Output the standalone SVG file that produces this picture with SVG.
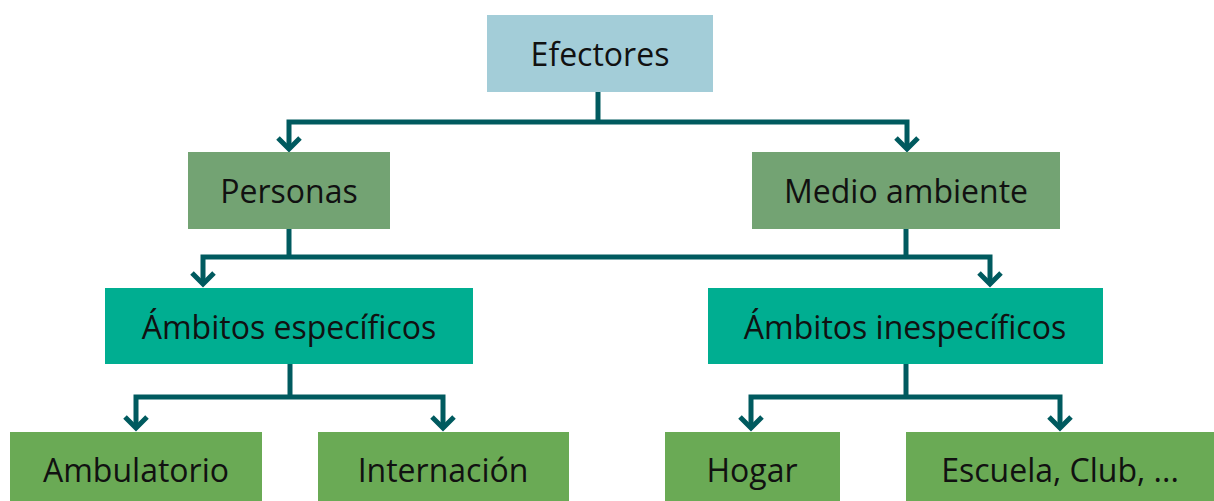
<svg xmlns="http://www.w3.org/2000/svg" width="1214" height="501" viewBox="0 0 1214 501">
<style>
text{font-family:"Open Sans","Noto Sans",sans-serif;font-size:32px;fill:#111;text-anchor:middle;dominant-baseline:central}
.c{fill:none;stroke:#005A5F;stroke-width:5;stroke-linejoin:miter}
.l1{fill:#A3CDD8}.l2{fill:#73A373}.l3{fill:#00AE91}.l4{fill:#6AAA55}
</style>
<rect width="1214" height="501" fill="#fff"/>
<g id="connectors" class="c">
<polyline points="598,92 598,122"/>
<polyline points="289,148 289,122 907,122 907,148"/>
<polyline points="278,138 289,149 300,138"/>
<polyline points="896,138 907,149 918,138"/>
<polyline points="289,229 289,257"/>
<polyline points="906,229 906,257"/>
<polyline points="203,283 203,257 990,257 990,283"/>
<polyline points="192,273 203,284 214,273"/>
<polyline points="979,273 990,284 1001,273"/>
<polyline points="290,364 290,397"/>
<polyline points="136,427 136,397 443,397 443,427"/>
<polyline points="125,417 136,428 147,417"/>
<polyline points="432,417 443,428 454,417"/>
<polyline points="906,364 906,397"/>
<polyline points="751,427 751,397 1060,397 1060,427"/>
<polyline points="740,417 751,428 762,417"/>
<polyline points="1049,417 1060,428 1071,417"/>
</g>
<g id="efectores"><rect class="l1" x="487" y="15" width="226" height="77"/><text x="600" y="53">Efectores</text></g>
<g id="personas"><rect class="l2" x="188" y="152" width="202" height="77"/><text x="289" y="190">Personas</text></g>
<g id="medio"><rect class="l2" x="752" y="152" width="308" height="77"/><text x="906" y="190">Medio ambiente</text></g>
<g id="especificos"><rect class="l3" x="105" y="288" width="368" height="76"/><text x="289" y="326">Ámbitos específicos</text></g>
<g id="inespecificos"><rect class="l3" x="708" y="288" width="395" height="76"/><text x="905" y="326">Ámbitos inespecíficos</text></g>
<g id="ambulatorio"><rect class="l4" x="10" y="432" width="252" height="69"/><text x="136" y="469">Ambulatorio</text></g>
<g id="internacion"><rect class="l4" x="318" y="432" width="251" height="69"/><text x="443" y="469">Internación</text></g>
<g id="hogar"><rect class="l4" x="665" y="432" width="175" height="69"/><text x="752" y="469">Hogar</text></g>
<g id="escuela"><rect class="l4" x="906" y="432" width="308" height="69"/><text x="1060" y="469">Escuela, Club, ...</text></g>
</svg>
